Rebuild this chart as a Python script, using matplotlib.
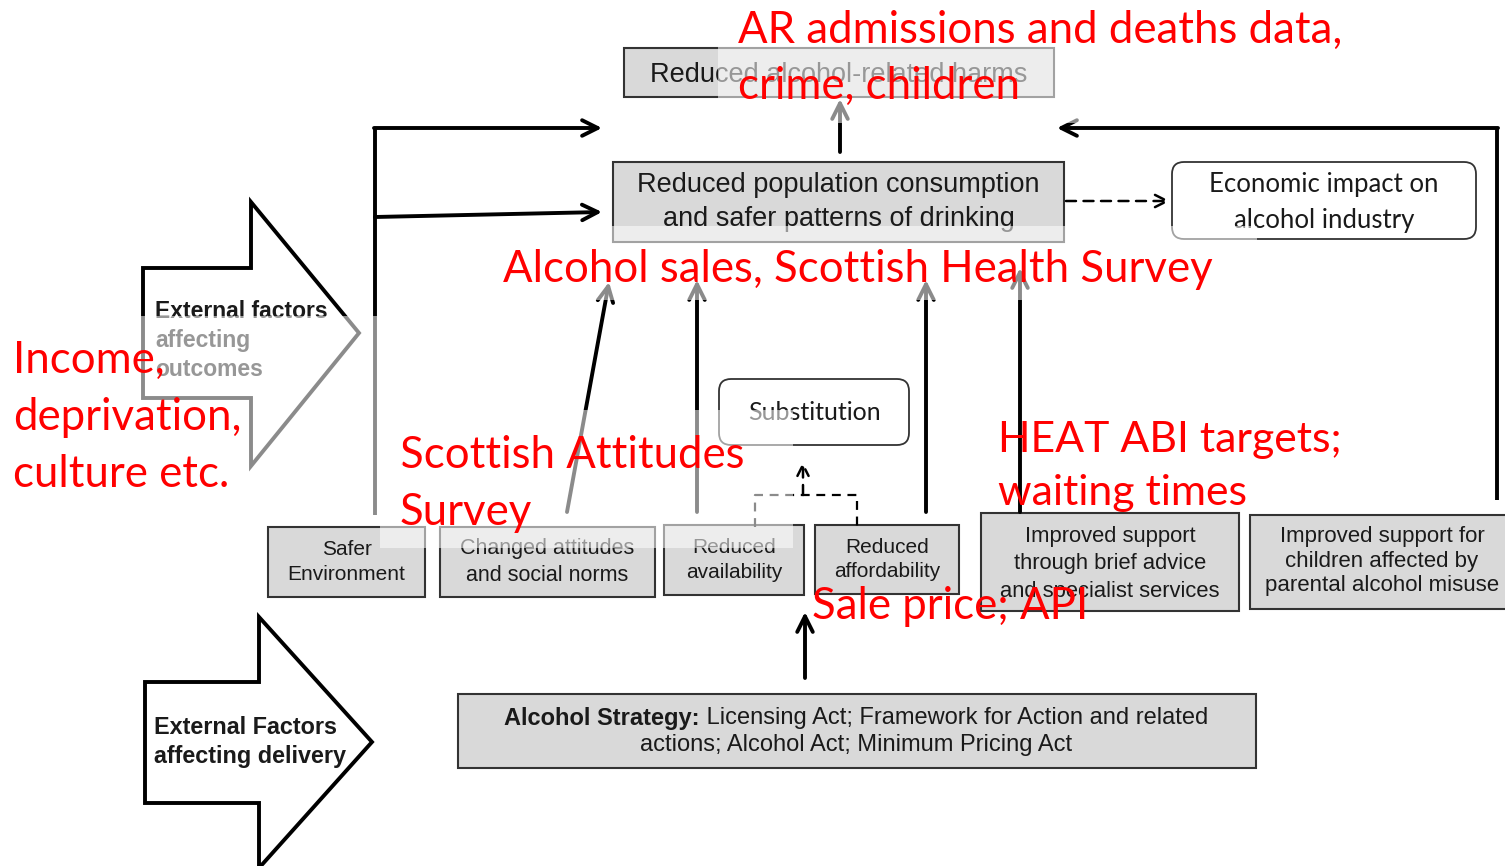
import matplotlib
matplotlib.use("Agg")
import matplotlib.pyplot as plt
from matplotlib.patches import Rectangle, FancyBboxPatch, Polygon

# ---------------- content ----------------
outcome_top = "Reduced alcohol-related harms"
outcome_mid = "Reduced population consumption\nand safer patterns of drinking"
economic = "Economic impact on\nalcohol industry"
substitution = "Substitution"
mechanisms = ["Safer\nEnvironment",
              "Changed attitudes\nand social norms",
              "Reduced\navailability",
              "Reduced\naffordability",
              "Improved support\nthrough brief advice\nand specialist services",
              "Improved support for\nchildren affected by\nparental alcohol misuse"]
strategy_bold = "Alcohol Strategy:"
strategy_line1 = " Licensing Act; Framework for Action and related"
strategy_line2 = "actions; Alcohol Act; Minimum Pricing Act"
ext_outcomes = ["External factors", "affecting", "outcomes"]
ext_delivery = "External Factors\naffecting delivery"
notes = ["AR admissions and deaths data,\ncrime, children",
         "Alcohol sales, Scottish Health Survey",
         "Income,\ndeprivation,\nculture etc.",
         "Scottish Attitudes\nSurvey",
         "HEAT ABI targets;\nwaiting times",
         "Sale price; API"]

# ---------------- layout (pixels) ----------------
W, H = 1505, 866
fig = plt.figure(figsize=(W / 100, H / 100), dpi=100)
ax = fig.add_axes([0, 0, 1, 1])
ax.set_xlim(0, W)
ax.set_ylim(H, 0)
ax.axis('off')

DIAG = ['Liberation Sans', 'DejaVu Sans']
CAL = ['Lato', 'DejaVu Sans']
GRAY = '#d9d9d9'
EDGE = '#333333'
TXT = '#1a1a1a'
RED = '#ff0000'
LW = 2.8


def gbox(x, y, w, h, text, fs, ls=1.2, font=DIAG, dy=0):
    ax.add_patch(Rectangle((x, y), w, h, facecolor=GRAY, edgecolor=EDGE, lw=1.5, zorder=2))
    ax.text(x + w / 2, y + h / 2 + dy, text, ha='center', va='center', fontsize=fs,
            family=font, color=TXT, linespacing=ls, zorder=3)


def rbox(x, y, w, h, text, fs, ls=1.2, dy=0):
    ax.add_patch(FancyBboxPatch((x, y), w, h, boxstyle="round,pad=0,rounding_size=12",
                                facecolor='white', edgecolor=EDGE, lw=1.3, zorder=2))
    ax.text(x + w / 2, y + h / 2 + dy, text, ha='center', va='center', fontsize=fs,
            family=CAL, color=TXT, linespacing=ls, zorder=3)


def arrow(x0, y0, x1, y1, ls='-', lw=LW, ms=28):
    ax.annotate('', xy=(x1, y1), xytext=(x0, y0),
                arrowprops=dict(arrowstyle='->', lw=lw, color='black', linestyle=ls,
                                shrinkA=0, shrinkB=0, mutation_scale=ms), zorder=2)


def line(xs, ys, ls='-', lw=LW):
    ax.plot(xs, ys, color='black', lw=lw, linestyle=ls, solid_capstyle='butt', zorder=2)


# top boxes
gbox(624, 48, 430, 49, outcome_top, 19.5, dy=2)
gbox(613, 162, 451, 80, outcome_mid, 19.5, 1.36)
rbox(1172, 162, 304, 77, economic, 18.5, 1.55, dy=2)
rbox(719, 379, 190, 66, substitution, 18)

# mechanism boxes
mech_boxes = [(268, 527, 157, 70), (440, 527, 215, 70), (664, 525, 140, 70),
              (815, 525, 144, 69), (981, 513, 258, 98), (1250, 515, 264, 94)]
mech_fs = [15, 15.5, 15, 15, 15.8, 16]
mech_ls = [1.38, 1.38, 1.38, 1.38, 1.38, 1.22]
mech_dy = [0, 0, 0, 0, 2, -1]
for (x, y, w, h), lab, fs, ls, dy in zip(mech_boxes, mechanisms, mech_fs, mech_ls, mech_dy):
    gbox(x, y, w, h, lab, fs, ls, dy=dy)

# strategy box
ax.add_patch(Rectangle((458, 694), 798, 74, facecolor=GRAY, edgecolor=EDGE, lw=1.5, zorder=2))
r = fig.canvas.get_renderer()
tb = ax.text(0, 718, strategy_bold, fontsize=17, family=DIAG, weight='bold', color=TXT,
             va='center', ha='left', zorder=3)
tr = ax.text(0, 718, strategy_line1, fontsize=17, family=DIAG, color=TXT,
             va='center', ha='left', zorder=3)
wb = tb.get_window_extent(r).width
wr = tr.get_window_extent(r).width
x0 = 856 - (wb + wr) / 2
tb.set_x(x0)
tr.set_x(x0 + wb)
ax.text(856, 745, strategy_line2, fontsize=17, family=DIAG, color=TXT,
        va='center', ha='center', zorder=3)

# big arrows (external factors)
ax.add_patch(Polygon([(143, 268), (251, 268), (251, 202), (359, 333), (251, 466),
                      (251, 398), (143, 398)], closed=True, facecolor='white',
                     edgecolor='black', lw=LW, joinstyle='miter', zorder=2))
for i, t in enumerate(ext_outcomes):
    ax.text(155, 312 + 29 * i, t, fontsize=16.5, family=DIAG, weight='bold', color=TXT,
            va='center', ha='left', zorder=3)
ax.add_patch(Polygon([(145, 682), (259, 682), (259, 617), (372, 742), (259, 868),
                      (259, 803), (145, 803)], closed=True, facecolor='white',
                     edgecolor='black', lw=LW, joinstyle='miter', zorder=2))
ax.text(154, 742, ext_delivery, fontsize=16.8, family=DIAG, weight='bold', color=TXT,
        va='center', ha='left', linespacing=1.3, zorder=3)

# connectors
arrow(840, 152, 840, 99)
arrow(1066, 201, 1170, 201, ls=(0, (4, 3)), lw=1.8, ms=22)
line([1497, 1497], [500, 128])
arrow(1498, 128, 1057, 128)
line([375, 375], [515, 128])
arrow(374, 128, 602, 128)
arrow(375, 217, 602, 212)
arrow(567, 512, 609, 282)
arrow(697, 512, 697, 280)
arrow(926, 512, 926, 280)
arrow(1020, 512, 1020, 268)
line([755, 755, 857, 857], [527, 495, 495, 527], ls=(0, (4, 3)), lw=1.6)
arrow(803, 495, 803, 462, ls=(0, (4, 3)), lw=1.8, ms=20)
arrow(805, 678, 805, 612)

# ---------------- red annotations with translucent white boxes ----------------
FADE = 0.55
NFS = 31.5


def fade(x, y, w, h, z):
    ax.add_patch(Rectangle((x, y), w, h, facecolor='white', edgecolor='none',
                           alpha=FADE, zorder=z))


def note(x, y, text, z, fs=NFS):
    ax.text(x, y, text, fontsize=fs, family=CAL, color=RED, ha='left', va='baseline',
            zorder=z)


fade(718, 0, 650, 123, 5)
note(738, 43, notes[0].split('\n')[0], 6)
note(738, 99, notes[0].split('\n')[1], 6)

fade(500, 226, 757, 74, 5)
note(503, 282, notes[1], 6)

fade(380, 410, 413, 138, 5)
for i, t in enumerate(notes[3].split('\n')):
    note(400, 468 + 57 * i, t, 6)

fade(0, 316, 403, 199, 7)
for i, t in enumerate(notes[2].split('\n')):
    note(13, 373 + 57 * i, t, 8)

for i, t in enumerate(notes[4].split('\n')):
    note(998, 452 + 53 * i, t, 8, fs=30.8)

note(812, 619, notes[5], 8)

fig.savefig('out.png', dpi=100, facecolor='white')
